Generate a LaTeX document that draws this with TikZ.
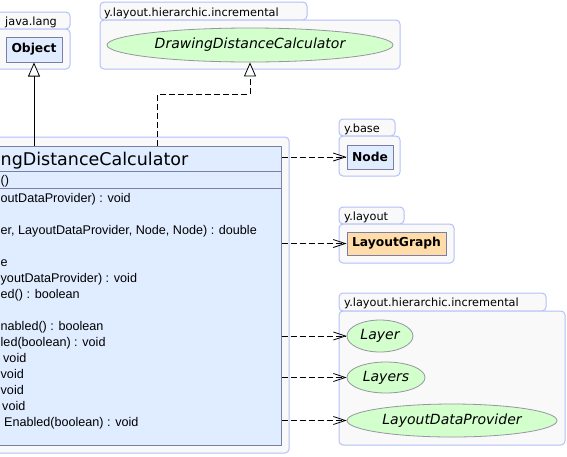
\documentclass[tikz,border=0pt]{standalone}
\usepackage{fontspec}
\setmainfont{DejaVu Sans}
\newfontfamily\membfont{Liberation Sans}
\usepackage{tikz}
\usetikzlibrary{positioning,arrows.meta,shapes.geometric}
\usepackage{xcolor}
\definecolor{pkgfill}{RGB}{249,249,249}
\definecolor{pkgline}{RGB}{180,192,250}
\definecolor{clsfill}{RGB}{224,236,255}
\definecolor{clsline}{RGB}{122,126,168}
\definecolor{ifcfill}{RGB}{210,255,204}
\definecolor{ifcline}{RGB}{150,150,160}
\definecolor{extfill}{RGB}{255,220,168}

\begin{document}
\begin{tikzpicture}[x=1pt,y=-1pt,
  pkg/.style={fill=pkgfill,draw=pkgline,line width=1pt,rounded corners=4pt},
  pkgname/.style={anchor=base west,inner sep=0pt,font=\fontsize{11.3}{13}\selectfont},
  clsbox/.style={rectangle,draw=clsline,fill=clsfill,line width=1pt,inner sep=0pt},
  refbox/.style={rectangle,draw=clsline,fill=clsfill,line width=1pt,inner sep=0pt,font=\fontsize{12.3}{14}\selectfont\bfseries},
  ifc/.style={ellipse,draw=ifcline,fill=ifcfill,line width=0.8pt,inner sep=0pt,font=\fontsize{14}{16}\selectfont\itshape},
  member/.style={anchor=base west,inner sep=0pt,font=\membfont\fontsize{12.6}{14}\selectfont},
  dep/.style={line width=0.8pt,dash pattern=on 6pt off 3pt,-{Straight Barb[length=12pt,width=8pt]}},
  inherit/.style={line width=0.8pt,-{Triangle[length=14pt,width=12pt,fill=white]}},
  realize/.style={line width=0.8pt,dash pattern=on 6pt off 3pt,-{Triangle[length=14pt,width=12pt,fill=white]}}]
\useasboundingbox (0,0) rectangle (567,456);
\clip (0,0) rectangle (567,456);

% packages
\draw[pkg] (-10,12) rectangle (70,29);
\draw[pkg] (-10,29) rectangle (70,69);
\node[pkgname] (pJava) at (5,25) {java.lang};
\draw[pkg] (100,2) rectangle (307,20);
\draw[pkg] (100,20) rectangle (400,69);
\node[pkgname] (pIncTop) at (104,16) {y.layout.hierarchic.incremental};
\draw[pkg] (339,119) rectangle (395,136);
\draw[pkg] (339,136) rectangle (400,176);
\node[pkgname] (pBase) at (344,132) {y.base};
\draw[pkg] (339,207) rectangle (404,224);
\draw[pkg] (339,224) rectangle (454,263);
\node[pkgname] (pLayout) at (344,220) {y.layout};
\draw[pkg] (339,293) rectangle (546,311);
\draw[pkg] (339,311) rectangle (565,445);
\node[pkgname] (pIncBot) at (344,306) {y.layout.hierarchic.incremental};
\draw[pkg] (-20,137) rectangle (289,453);

% classes and interfaces
\node[refbox,minimum width=56pt,minimum height=25pt] (obj) at (34,49.5) {Object};
\node[ifc,minimum width=286pt,minimum height=34pt] (ifc) at (250,45) {DrawingDistanceCalculator};
\node[refbox,minimum width=46pt,minimum height=24pt] (node) at (370,157) {Node};
\node[refbox,fill=extfill,minimum width=99pt,minimum height=23pt] (lgraph) at (396.5,243.5) {LayoutGraph};
\node[ifc,minimum width=66pt,minimum height=32pt] (layer) at (380,336) {Layer};
\node[ifc,minimum width=78pt,minimum height=31pt] (layers) at (386,377.5) {Layers};
\node[ifc,minimum width=210pt,minimum height=33pt] (ldp) at (452,420.5) {LayoutDataProvider};

% the implementing class
\node[clsbox,minimum width=291pt,minimum height=299pt] (cls) at (135.5,295.5) {};
\draw[clsline,line width=1pt] (cls.west |- 0,171) -- (cls.east |- 0,171);
\draw[clsline,line width=1pt] (cls.west |- 0,188) -- (cls.east |- 0,188);
\node[anchor=base west,inner sep=0pt,font=\fontsize{17.5}{19}\selectfont] (title) at (0.5,165) {ngDistanceCalculator};
\node[member] (m0) at (0.5,184.5) {()};
\node[member] (m1) at (0.5,202) {outDataProvider) : void};
\node[member] (m2) at (0.5,234) {er, LayoutDataProvider, Node, Node) : double};
\node[member] (m3) at (0.5,266) {e};
\node[member] (m4) at (0.5,282) {youtDataProvider) : void};
\node[member] (m5) at (0.5,298) {ed() : boolean};
\node[member] (m6) at (0.5,330) {nabled() : boolean};
\node[member] (m7) at (0.5,346) {led(boolean) : void};
\node[member] (m8) at (3,362) {void};
\node[member] (m9) at (0.5,378) {void};
\node[member] (m10) at (0.5,394) {void};
\node[member] (m11) at (2,410) {void};
\node[member] (m12) at (4,426) {Enabled(boolean) : void};

% connectors
\draw[inherit] (cls.north -| obj.south) -- (obj.south);
\draw[realize] ([xshift=-124pt]cls.north east) |- ([yshift=-32pt]ifc.south) -- (ifc.south);
\draw[dep] (cls.east |- node.west) -- (node.west);
\draw[dep] (cls.east |- lgraph.west) -- (lgraph.west);
\draw[dep] (cls.east |- layer.west) -- (layer.west);
\draw[dep] (cls.east |- layers.west) -- (layers.west);
\draw[dep] (cls.east |- ldp.west) -- (ldp.west);
\end{tikzpicture}
\end{document}
